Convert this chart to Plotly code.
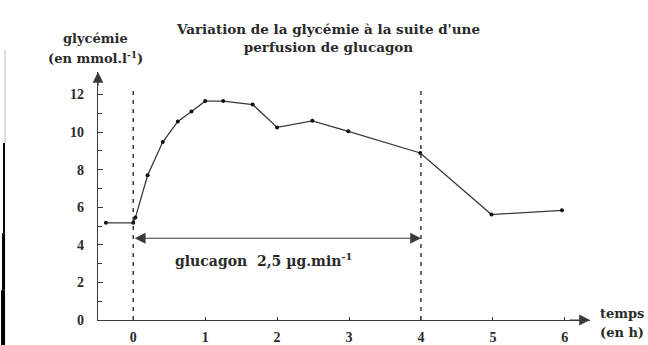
import plotly.graph_objects as go

# Blood glucose during a glucagon infusion
temps_h = [-0.38, 0.0, 0.03, 0.2, 0.41, 0.62, 0.81, 1.0, 1.25, 1.66, 2.0, 2.49, 2.99, 3.99, 4.98, 5.96]
glycemie = [5.17, 5.17, 5.45, 7.7, 9.47, 10.57, 11.1, 11.65, 11.65, 11.47, 10.25, 10.6, 10.04, 8.89, 5.61, 5.84]

x_ticks = [0, 1, 2, 3, 4, 5, 6]
y_ticks = [0, 2, 4, 6, 8, 10, 12]

perfusion_debut = 0
perfusion_fin = 4
perfusion_label = "<b>glucagon  2,5 µg.min<sup>-1</sup></b>"

titre = "<b>Variation de la glycémie à la suite d'une<br>perfusion de glucagon</b>"

FONT = "Liberation Serif"
TEXT_FONT = "DejaVu Serif"
INK = "#2a2a2a"
LINE = "#3a3a3a"

X_RANGE = [-0.49, 6.35]
Y_RANGE = [0, 13.2]

fig = go.Figure()

fig.add_trace(go.Scatter(
    x=temps_h, y=glycemie, mode="lines+markers",
    line=dict(color=LINE, width=1.3),
    marker=dict(color="#111", size=4),
    cliponaxis=False, showlegend=False,
))

# infusion window boundaries
for tx in (perfusion_debut, perfusion_fin):
    fig.add_shape(type="line", xref="x", yref="y", x0=tx, x1=tx, y0=0, y1=12.4,
                  line=dict(color=LINE, width=1.5, dash="4px,5px"))

# double arrow showing the infusion period
fig.add_annotation(x=perfusion_fin, y=4.35, ax=perfusion_debut, ay=4.35,
                   xref="x", yref="y", axref="x", ayref="y", text="",
                   showarrow=True, arrowhead=2, arrowside="end+start",
                   arrowsize=1.8, arrowwidth=1.2, arrowcolor=LINE)
fig.add_annotation(x=1.81, y=3.2, xref="x", yref="y", text=perfusion_label,
                   showarrow=False, font=dict(family=TEXT_FONT, size=14, color=INK))

# axis arrowheads
fig.add_annotation(x=X_RANGE[1], y=0, ax=X_RANGE[1] - 0.3, ay=0, xref="x", yref="y",
                   axref="x", ayref="y", text="", showarrow=True, arrowhead=2,
                   arrowsize=1.8, arrowwidth=1.2, arrowcolor=LINE)
fig.add_annotation(x=X_RANGE[0], y=Y_RANGE[1], ax=X_RANGE[0], ay=Y_RANGE[1] - 0.8,
                   xref="x", yref="y", axref="x", ayref="y", text="", showarrow=True,
                   arrowhead=2, arrowsize=1.8, arrowwidth=1.2, arrowcolor=LINE)

# titles and axis labels (paper coordinates, outside the plotting area)
fig.add_annotation(x=0.4675, y=1.137, xref="paper", yref="paper", text=titre,
                   showarrow=False, align="center", xanchor="center", yanchor="middle",
                   font=dict(family=TEXT_FONT, size=13.5, color=INK))
fig.add_annotation(x=-0.006, y=1.137, xref="paper", yref="paper", text="<b>glycémie</b>",
                   showarrow=False, xanchor="center", yanchor="middle",
                   font=dict(family=TEXT_FONT, size=13, color=INK))
fig.add_annotation(x=-0.006, y=1.060, xref="paper", yref="paper",
                   text="<b>(en mmol.l<sup>-1</sup>)</b>", showarrow=False,
                   xanchor="center", yanchor="middle",
                   font=dict(family=TEXT_FONT, size=13, color=INK))
fig.add_annotation(x=1.065, y=0.028, xref="paper", yref="paper", text="<b>temps</b>",
                   showarrow=False, xanchor="center", yanchor="middle",
                   font=dict(family=TEXT_FONT, size=13, color=INK))
fig.add_annotation(x=1.065, y=-0.052, xref="paper", yref="paper", text="<b>(en h)</b>",
                   showarrow=False, xanchor="center", yanchor="middle",
                   font=dict(family=TEXT_FONT, size=13, color=INK))

# dark edge along the left border
fig.add_shape(type="line", xref="paper", yref="paper", x0=-0.189, x1=-0.189,
              y0=1.089, y1=0.714, line=dict(color="#bbbbbb", width=1))
fig.add_shape(type="line", xref="paper", yref="paper", x0=-0.191, x1=-0.191,
              y0=0.714, y1=0.35, line=dict(color="#000", width=2))
fig.add_shape(type="line", xref="paper", yref="paper", x0=-0.192, x1=-0.192,
              y0=0.35, y1=0.12, line=dict(color="#000", width=3))
fig.add_shape(type="line", xref="paper", yref="paper", x0=-0.193, x1=-0.193,
              y0=0.12, y1=-0.11, line=dict(color="#000", width=4))

fig.update_layout(
    width=648, height=345,
    margin=dict(l=98, r=58, t=72, b=25, autoexpand=False),
    paper_bgcolor="white", plot_bgcolor="white",
    font=dict(family=FONT, color=INK),
    xaxis=dict(range=X_RANGE, tickvals=x_ticks, showline=True, linecolor=LINE,
               linewidth=1.3, showgrid=False, zeroline=False, ticks="inside",
               ticklen=3, tickcolor=LINE, automargin=False,
               tickfont=dict(family=FONT, size=14, color=INK, weight="bold"),
               ticklabelstandoff=4),
    yaxis=dict(range=Y_RANGE, tickvals=y_ticks, showline=True, linecolor=LINE,
               linewidth=1.3, showgrid=False, zeroline=False, ticks="inside",
               ticklen=5, tickcolor=LINE, automargin=False,
               minor=dict(tickvals=[1, 3, 5, 7, 9, 11], ticks="inside", ticklen=4,
                          tickcolor=LINE, showgrid=False),
               tickfont=dict(family=FONT, size=14, color=INK, weight="bold"),
               ticklabelstandoff=10),
)

fig.write_html("out.html")
